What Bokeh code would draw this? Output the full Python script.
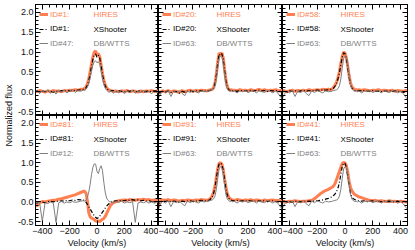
import math
from bokeh.plotting import figure
from bokeh.models import (Range1d, SingleIntervalTicker, LinearAxis, NumeralTickFormatter,
                          BasicTickFormatter, Legend, LegendItem, Label)
from bokeh.layouts import row, column
from bokeh.embed import file_html
from bokeh.resources import INLINE

# ---------------- data ----------------
vel = [-460, -440, -420, -400, -380, -360, -340, -320, -300, -280, -260, -240, -220, -200, -180, -160, -140, -120, -100,
       -90, -80, -70, -60, -50, -40, -30, -20, -10, 0, 10, 20, 30, 40, 50, 60, 70, 80, 90,
       100, 120, 140, 160, 180, 200, 220, 240, 260, 280, 300, 320, 340, 360, 380, 400, 420, 440, 460]

hires_1 = [0.02, 0.00, 0.03, 0.01, -0.01, 0.02, 0.00, 0.03, 0.01, 0.02, 0.00, 0.03, 0.02, 0.04, 0.03, 0.05, 0.04, 0.06, 0.07,
           0.08, 0.12, 0.20, 0.33, 0.50, 0.70, 0.88, 1.00, 1.03, 0.93, 0.96, 0.88, 0.68, 0.46, 0.29, 0.17, 0.10, 0.06, 0.04,
           0.03, 0.01, 0.02, 0.00, 0.02, 0.01, 0.03, 0.00, 0.02, 0.01, -0.01, 0.02, 0.00, 0.02, 0.01, 0.03, 0.00, 0.02, 0.01]
xsh_1 = [0.01, 0.03, -0.01, 0.02, 0.00, 0.03, 0.01, -0.01, 0.02, 0.00, 0.03, 0.01, 0.03, 0.02, 0.04, 0.03, 0.04, 0.05, 0.06,
         0.07, 0.10, 0.17, 0.28, 0.45, 0.64, 0.82, 0.93, 0.95, 0.87, 0.92, 0.85, 0.65, 0.43, 0.26, 0.15, 0.08, 0.05, 0.03,
         0.02, 0.03, 0.00, 0.02, 0.01, -0.01, 0.02, 0.01, 0.03, 0.00, 0.01, 0.03, -0.01, 0.01, 0.02, 0.00, 0.03, 0.01, 0.00]
dbw_47 = [-0.03, 0.04, -0.05, 0.03, -0.02, 0.05, -0.04, 0.02, -0.06, 0.03, -0.02, 0.04, -0.03, 0.02, 0.05, -0.02, 0.03, 0.01, 0.04,
          0.03, 0.06, 0.12, 0.20, 0.34, 0.52, 0.67, 0.76, 0.78, 0.73, 0.76, 0.69, 0.52, 0.33, 0.18, 0.09, 0.04, 0.01, -0.02,
          0.03, -0.04, 0.02, -0.03, 0.04, -0.05, 0.01, -0.02, 0.03, -0.04, 0.02, -0.03, 0.04, -0.02, 0.01, -0.05, 0.02, -0.03, 0.01]

hires_20 = [0.01, -0.02, 0.02, 0.00, 0.03, -0.01, 0.02, 0.01, -0.02, 0.03, 0.00, 0.02, 0.04, 0.01, 0.03, 0.02, 0.04, 0.03, 0.02,
            0.03, 0.04, 0.05, 0.06, 0.10, 0.22, 0.45, 0.75, 0.98, 0.93, 0.98, 0.85, 0.55, 0.28, 0.12, 0.06, 0.04, 0.05, 0.03,
            0.04, 0.02, 0.05, 0.03, 0.04, 0.02, 0.05, 0.03, 0.04, 0.06, 0.03, 0.05, 0.02, 0.04, 0.03, 0.05, 0.02, 0.03, 0.01]
xsh_20 = [0.00, -0.03, 0.01, -0.01, 0.02, -0.02, 0.01, 0.00, -0.04, 0.01, -0.01, 0.01, 0.02, 0.00, 0.02, 0.01, 0.03, 0.02, 0.01,
          0.02, 0.03, 0.04, 0.05, 0.09, 0.20, 0.42, 0.72, 0.95, 0.91, 0.96, 0.82, 0.52, 0.25, 0.10, 0.05, 0.03, 0.04, 0.02,
          0.03, 0.01, 0.03, 0.02, 0.03, 0.01, 0.04, 0.02, 0.03, 0.04, 0.02, 0.03, 0.01, 0.03, 0.02, 0.03, 0.01, 0.00, -0.02]
dbw_63 = [-0.25, -0.08, 0.02, -0.03, 0.03, -0.12, 0.01, -0.02, 0.03, -0.04, -0.10, 0.02, -0.02, 0.03, 0.00, -0.03, 0.02, 0.00, 0.01,
          0.02, 0.03, 0.04, 0.05, 0.08, 0.15, 0.32, 0.60, 0.84, 0.90, 0.87, 0.70, 0.42, 0.18, 0.07, 0.03, 0.01, 0.02, 0.00,
          0.02, -0.03, 0.02, 0.00, 0.03, -0.02, 0.01, 0.03, -0.03, 0.02, 0.00, -0.02, 0.03, 0.01, -0.03, 0.02, -0.05, -0.15, -0.20]

hires_58 = [0.01, 0.03, 0.00, 0.02, 0.04, 0.01, 0.03, 0.02, 0.04, 0.02, 0.05, 0.03, 0.04, 0.05, 0.04, 0.06, 0.05, 0.06, 0.05,
            0.08, 0.12, 0.17, 0.25, 0.36, 0.51, 0.71, 0.89, 1.00, 0.97, 0.85, 0.64, 0.40, 0.22, 0.12, 0.08, 0.06, 0.05, 0.04,
            0.05, 0.03, 0.05, 0.04, 0.02, 0.04, 0.03, 0.05, 0.02, 0.04, 0.03, 0.02, 0.04, 0.01, 0.03, 0.02, 0.01, 0.03, 0.00]
xsh_58 = [-0.01, 0.01, -0.02, 0.02, 0.01, 0.03, 0.00, 0.02, 0.03, 0.01, 0.03, 0.02, 0.03, 0.04, 0.03, 0.05, 0.04, 0.05, 0.06,
          0.07, 0.10, 0.15, 0.22, 0.33, 0.48, 0.68, 0.87, 0.98, 0.96, 0.84, 0.61, 0.36, 0.18, 0.09, 0.05, 0.03, 0.03, 0.02,
          0.03, 0.02, 0.03, 0.01, 0.02, 0.03, 0.01, 0.02, 0.00, 0.02, 0.01, 0.03, 0.00, 0.02, 0.01, 0.00, -0.02, 0.01, -0.01]

hires_81 = [-0.08, -0.10, -0.02, 0.01, 0.00, 0.02, 0.03, 0.04, 0.05, 0.07, 0.08, 0.10, 0.12, 0.14, 0.16, 0.18, 0.21, 0.24, 0.27,
            0.27, 0.22, 0.02, -0.28, -0.38, -0.41, -0.43, -0.45, -0.48, -0.50, -0.48, -0.50, -0.47, -0.44, -0.42, -0.37, -0.30, -0.22, -0.15,
            -0.08, -0.02, 0.01, 0.03, 0.04, 0.05, 0.04, 0.06, 0.05, 0.04, 0.06, 0.05, 0.07, 0.05, 0.06, 0.04, 0.05, 0.03, 0.02]
xsh_81 = [0.00, -0.03, 0.01, 0.00, -0.02, 0.01, 0.02, 0.00, 0.02, 0.01, 0.03, 0.02, 0.04, 0.03, 0.05, 0.04, 0.06, 0.05, 0.05,
          0.03, -0.01, -0.06, -0.12, -0.18, -0.24, -0.30, -0.35, -0.39, -0.42, -0.40, -0.36, -0.31, -0.26, -0.21, -0.16, -0.11, -0.07, -0.04,
          -0.01, 0.02, 0.03, 0.02, 0.04, 0.03, 0.05, 0.04, 0.06, 0.04, 0.05, 0.03, 0.04, 0.02, 0.03, 0.01, -0.02, 0.00, -0.01]
dbw_12 = [-0.03, -0.01, -0.02, -0.50, -0.02, -0.04, 0.00, -0.03, -0.52, -0.02, 0.01, -0.03, 0.00, -0.02, 0.01, -0.01, 0.00, 0.02, 0.03,
          0.02, 0.05, 0.12, 0.25, 0.45, 0.70, 0.88, 0.97, 0.96, 0.78, 0.72, 0.85, 0.92, 0.80, 0.50, 0.25, 0.10, 0.04, 0.01,
          0.00, -0.02, 0.01, -0.01, 0.02, -0.03, 0.00, -0.02, 0.01, -0.52, -0.03, 0.00, -0.02, 0.01, -0.03, 0.00, -0.03, 0.00, -0.02]

hires_91 = [-0.22, 0.03, 0.05, 0.04, 0.06, 0.03, 0.05, 0.04, 0.02, 0.04, 0.03, 0.05, 0.04, 0.03, 0.05, 0.04, 0.06, 0.05, 0.04,
            0.05, 0.07, 0.10, 0.16, 0.25, 0.40, 0.62, 0.85, 0.98, 1.00, 0.96, 0.82, 0.58, 0.36, 0.20, 0.12, 0.08, 0.06, 0.05,
            0.04, 0.06, 0.05, 0.03, 0.05, 0.04, 0.06, 0.03, 0.05, 0.04, 0.02, 0.05, 0.03, 0.04, 0.05, 0.03, 0.04, 0.02, 0.03]
xsh_91 = [-0.10, 0.00, 0.02, 0.01, 0.03, 0.00, 0.02, 0.01, -0.01, 0.02, 0.01, 0.02, 0.03, 0.01, 0.02, 0.03, 0.04, 0.03, 0.03,
          0.04, 0.05, 0.08, 0.13, 0.22, 0.37, 0.60, 0.84, 0.97, 0.99, 0.95, 0.80, 0.55, 0.32, 0.17, 0.09, 0.05, 0.04, 0.03,
          0.03, 0.04, 0.02, 0.03, 0.02, 0.04, 0.02, 0.03, 0.01, 0.03, 0.02, 0.03, 0.01, 0.02, 0.03, 0.01, 0.00, -0.01, 0.00]

hires_41 = [-0.02, 0.01, 0.00, 0.02, 0.01, 0.03, 0.02, 0.01, 0.02, 0.02, 0.03, 0.04, 0.08, 0.14, 0.20, 0.25, 0.29, 0.32, 0.36,
            0.38, 0.42, 0.48, 0.58, 0.68, 0.78, 0.88, 0.97, 1.01, 0.99, 0.92, 0.75, 0.52, 0.36, 0.28, 0.23, 0.19, 0.17, 0.15,
            0.13, 0.11, 0.08, 0.06, 0.04, 0.03, 0.04, 0.02, 0.03, 0.02, 0.01, 0.03, 0.01, 0.02, 0.00, 0.02, 0.01, 0.00, -0.01]
xsh_41 = [-0.01, 0.02, -0.01, 0.01, 0.00, 0.02, 0.01, 0.00, 0.02, 0.01, 0.02, 0.01, 0.02, 0.03, 0.04, 0.05, 0.07, 0.09, 0.12,
          0.14, 0.17, 0.21, 0.27, 0.36, 0.50, 0.70, 0.90, 0.99, 0.98, 0.88, 0.66, 0.40, 0.22, 0.12, 0.08, 0.06, 0.05, 0.04,
          0.03, 0.02, 0.03, 0.01, 0.02, 0.03, 0.01, 0.02, 0.00, 0.02, 0.01, 0.02, 0.00, 0.01, 0.02, 0.00, -0.01, 0.01, -0.02]

panels = [
    (("ID#1:", hires_1), ("ID#1:", xsh_1), ("ID#47:", dbw_47)),
    (("ID#20:", hires_20), ("ID#20:", xsh_20), ("ID#63:", dbw_63)),
    (("ID#58:", hires_58), ("ID#58:", xsh_58), ("ID#63:", dbw_63)),
    (("ID#81:", hires_81), ("ID#81:", xsh_81), ("ID#12:", dbw_12)),
    (("ID#91:", hires_91), ("ID#91:", xsh_91), ("ID#63:", dbw_63)),
    (("ID#41:", hires_41), ("ID#41:", xsh_41), ("ID#63:", dbw_63)),
]
instruments = ["HIRES", "XShooter", "DB/WTTS"]
x_range_lim = (-450, 450)
y_range_lim = (-0.6, 2.2)

# ---------------- styling ----------------
FONT = "Liberation Sans"
FS = "9px"
LFS = "8px"
ORANGE = "#FF7F50"
BLACK = "#000000"
GRAY = "#7F7F7F"
TXT = "#111111"
styles = [dict(line_color=ORANGE, line_width=3.0),
          dict(line_color=BLACK, line_width=1.2, line_dash="4 2 1 2"),
          dict(line_color=GRAY, line_width=1.0)]
text_colors = [ORANGE, BLACK, GRAY]
FWS = [124, 124, 125]
FH = 111
LABW = 14
BL, BB, BT, BR = 20, 24, 4, 8
row_centers = [10, 24.5, 39]


def make_axis(kind, show_labels, label=None):
    if kind == "x":
        ticker = SingleIntervalTicker(interval=200, num_minor_ticks=4)
        fmt = BasicTickFormatter()
    else:
        ticker = SingleIntervalTicker(interval=0.5, num_minor_ticks=5)
        fmt = NumeralTickFormatter(format="0.0")
    ax = LinearAxis(ticker=ticker, formatter=fmt,
                    major_tick_in=5, major_tick_out=0, minor_tick_in=3, minor_tick_out=0,
                    axis_line_color=BLACK, major_tick_line_color=BLACK, minor_tick_line_color=BLACK,
                    major_label_text_font=FONT)
    if show_labels:
        ax.major_label_text_font_size = FS
        ax.major_label_text_color = TXT
        ax.major_label_standoff = 2
    else:
        ax.major_label_text_font_size = "1px"
        ax.major_label_text_color = None
        ax.major_label_standoff = 0
    if label:
        ax.axis_label = label
        ax.axis_label_text_font = FONT
        ax.axis_label_text_font_size = FS
        ax.axis_label_text_font_style = "normal"
        ax.axis_label_standoff = 1
        ax.axis_label_text_color = TXT
    return ax


figs = []
for i, series in enumerate(panels):
    r, c = divmod(i, 3)
    bl = BL if c == 0 else 0
    br = BR if c == 2 else 0
    bt = BT if r == 0 else 0
    bb = BB if r == 1 else 0
    p = figure(width=FWS[c] + bl + br, height=FH + bt + bb,
               x_range=Range1d(*x_range_lim), y_range=Range1d(*y_range_lim),
               output_backend="svg", toolbar_location=None,
               x_axis_location=None, y_axis_location=None,
               min_border_left=bl, min_border_right=br, min_border_top=bt, min_border_bottom=bb)
    p.grid.visible = False
    p.outline_line_color = BLACK
    p.background_fill_color = "white"
    p.border_fill_color = "white"

    p.add_layout(make_axis("x", r == 1, "Velocity (km/s)" if r == 1 else None), "below")
    p.add_layout(make_axis("x", False), "above")
    p.add_layout(make_axis("y", c == 0), "left")
    p.add_layout(make_axis("y", False), "right")

    for k, ((idtxt, flux), st) in enumerate(zip(series, styles)):
        rend = p.line(vel, flux, **st)
        leg = Legend(items=[LegendItem(label=idtxt, renderers=[rend])],
                     location=(4, FH - row_centers[k] - 5),
                     padding=0, margin=0, spacing=0,
                     glyph_width=9, glyph_height=10, label_height=10, label_width=10,
                     label_standoff=2,
                     label_text_font=FONT, label_text_font_size=LFS,
                     label_text_color=text_colors[k], label_text_baseline="middle",
                     border_line_color=None, background_fill_alpha=0)
        p.add_layout(leg)
        p.add_layout(Label(x=58, y=FH - row_centers[k], x_units="screen", y_units="screen",
                           text=instruments[k], text_font=FONT, text_font_size=LFS,
                           text_color=text_colors[k], text_baseline="middle"))
    figs.append(p)

# y-axis title spanning both rows
TOTAL_H = BT + 2 * FH + BB
lab = figure(width=LABW, height=TOTAL_H, output_backend="svg", toolbar_location=None,
             x_axis_location=None, y_axis_location=None,
             x_range=Range1d(0, 1), y_range=Range1d(0, 1),
             min_border_left=0, min_border_right=0, min_border_top=0, min_border_bottom=0)
lab.grid.visible = False
lab.outline_line_color = None
lab.add_layout(Label(x=8, y=TOTAL_H - BT - FH, x_units="screen", y_units="screen", text="Normalized flux",
                     angle=math.pi / 2, text_align="center", text_baseline="middle",
                     text_font=FONT, text_font_size=FS, text_color=TXT))

layout = row(lab, column(row(*figs[0:3]), row(*figs[3:6])))
open("out.html", "w").write(file_html(layout, INLINE))
